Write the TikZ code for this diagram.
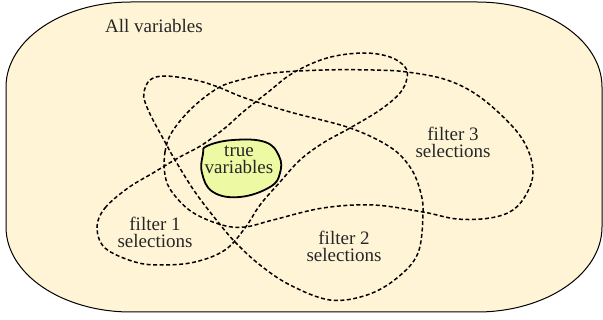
\documentclass[tikz,border=0pt]{standalone}
\usepackage{fontspec}
\setmainfont{Liberation Serif}
\definecolor{universe}{RGB}{255,245,214}
\definecolor{truefill}{RGB}{238,250,163}
\begin{document}
\begin{tikzpicture}[x=1pt,y=-1pt,
  lbl/.style={font=\fontsize{19}{17}\selectfont,align=center,inner sep=0pt,text=black!85},
  selset/.style={draw=black,line width=1.5pt,dash pattern=on 4pt off 2.5pt},
  trueset/.style={draw=black,line width=1.8pt,fill=truefill}]
\useasboundingbox (0,0) rectangle (603,320);

% outer set of all variables, with elliptic corners (y axis points down)
\filldraw[fill=universe,draw=black,line width=1pt]
  (131,2) -- (477,2) arc[start angle=-90,end angle=0,x radius=125,y radius=85]
  -- (602,227) arc[start angle=0,end angle=90,x radius=125,y radius=85]
  -- (131,312) arc[start angle=90,end angle=180,x radius=125,y radius=85]
  -- (6,87) arc[start angle=180,end angle=270,x radius=125,y radius=85] -- cycle;

% filter 1 selections
\draw[selset] plot[smooth cycle,tension=0.6] coordinates {
  (97,227) (105,208) (128,188) (153,173) (178,158) (202,145) (225,128)
  (243,112) (267,93) (293,73) (327,58) (363,53) (390,57) (405,67) (407,78)
  (400,93) (380,110) (350,128) (323,143) (300,160) (280,182) (260,205)
  (245,228) (225,250) (195,262) (162,265) (135,262) (105,248)};

% filter 2 selections
\draw[selset] plot[smooth cycle,tension=0.6] coordinates {
  (144,92) (150,80) (165,76) (195,80) (218,87) (245,98) (290,112) (350,128)
  (390,147) (410,167) (420,190) (423,213) (418,253) (397,278) (367,295)
  (330,300) (290,285) (260,265) (236,243) (218,222) (195,192) (175,160)
  (165,142) (152,118) (145,102)};

% filter 3 selections
\draw[selset] plot[smooth cycle,tension=0.6] coordinates {
  (165,175) (165,152) (172,132) (192,108) (218,88) (240,80) (273,73)
  (323,70) (373,70) (407,72) (447,80) (480,97) (513,127) (528,150)
  (533,173) (527,193) (513,210) (490,218) (457,219) (423,212) (373,205)
  (323,208) (273,220) (245,227) (222,225) (192,212) (172,192)};

% the true variables
\draw[trueset] plot[smooth cycle,tension=0.7] coordinates {
  (207,146) (233,140) (265,142) (279,156) (280,173) (270,187) (240,197)
  (213,192) (202,173) (203,154)};

\node[lbl,anchor=base west] (all) at (105,33) {All variables};
\node[lbl] (truev) at (239,160) {true\\variables};
\node[lbl] (f1) at (155,232) {filter 1\\selections};
\node[lbl] (f2) at (344,246) {filter 2\\selections};
\node[lbl] (f3) at (453,142) {filter 3\\selections};
\end{tikzpicture}
\end{document}
